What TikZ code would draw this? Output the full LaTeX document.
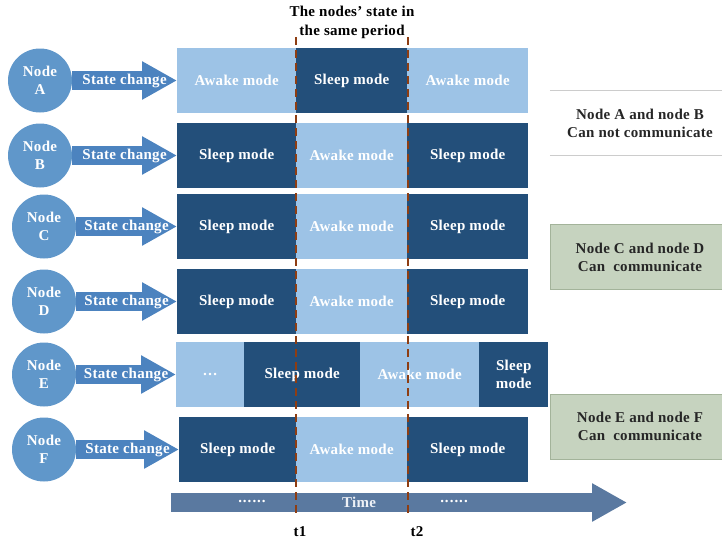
\documentclass[tikz,border=0pt]{standalone}
\usepackage{fontspec}
\setmainfont{Liberation Serif}[LetterSpace=2]
\usepackage{tikz}
\usetikzlibrary{positioning,arrows.meta}
\usepackage{xcolor}
\definecolor{awake}{HTML}{9DC3E6}
\definecolor{sleep}{HTML}{234F7A}
\definecolor{circblue}{HTML}{6097CA}
\definecolor{chgblue}{HTML}{4C83BF}
\definecolor{timeblue}{HTML}{5A79A0}
\definecolor{okgreen}{HTML}{C6D3BF}
\definecolor{okedge}{HTML}{A3B39A}
\definecolor{tline}{HTML}{8E3D12}

\begin{document}
\begin{tikzpicture}[
  x=1pt,y=-1pt,
  every node/.style={font=\bfseries\fontsize{15}{18}\selectfont},
  nd/.style={circle,fill=circblue,text=white,minimum size=64pt,inner sep=0pt,align=center},
  aw/.style={fill=awake,text=white,minimum height=65pt,inner sep=0pt,anchor=west,align=center},
  sl/.style={fill=sleep,text=white,minimum height=65pt,inner sep=0pt,anchor=west,align=center},
  chg/.style={draw=chgblue,line width=19pt,-{Triangle[length=35pt,width=36pt]}},
  lbl/.style={text=white,inner sep=0pt},
  res/.style={minimum width=180pt,minimum height=65pt,align=center,text=black!85},
  tmark/.style={draw=tline,line width=2.5pt,dash pattern=on 8pt off 5pt}
]
  \useasboundingbox (0,0) rectangle (722,541);

  % title
  \node[align=center,font=\bfseries\fontsize{15}{19}\selectfont] (title) at (352,22) {The nodes' state in\\the same period};

  % node A
  \node[nd] (nA) at (40,80.5) {Node\\A};
  \node[aw,minimum width=119pt] (rA1) at (177,80.5) {Awake mode};
  \node[sl,minimum width=111pt] (rA2) at (296,80.5) {Sleep mode};
  \node[aw,minimum width=121pt] (rA3) at (407,80.5) {Awake mode};
  \draw[chg] (nA) -- node[lbl] {State change} (rA1);

  % node B
  \node[nd] (nB) at (40,155.5) {Node\\B};
  \node[sl,minimum width=119pt] (rB1) at (177,155.5) {Sleep mode};
  \node[aw,minimum width=111pt] (rB2) at (296,155.5) {Awake mode};
  \node[sl,minimum width=121pt] (rB3) at (407,155.5) {Sleep mode};
  \draw[chg] (nB) -- node[lbl] {State change} (rB1);

  % node C
  \node[nd] (nC) at (44,226.5) {Node\\C};
  \node[sl,minimum width=119pt] (rC1) at (177,226.5) {Sleep mode};
  \node[aw,minimum width=111pt] (rC2) at (296,226.5) {Awake mode};
  \node[sl,minimum width=121pt] (rC3) at (407,226.5) {Sleep mode};
  \draw[chg] (nC) -- node[lbl] {State change} (rC1);

  % node D
  \node[nd] (nD) at (44,301.5) {Node\\D};
  \node[sl,minimum width=119pt] (rD1) at (177,301.5) {Sleep mode};
  \node[aw,minimum width=111pt] (rD2) at (296,301.5) {Awake mode};
  \node[sl,minimum width=121pt] (rD3) at (407,301.5) {Sleep mode};
  \draw[chg] (nD) -- node[lbl] {State change} (rD1);

  % node E
  \node[nd] (nE) at (44,374.5) {Node\\E};
  \node[aw,minimum width=68pt] (rE1) at (176,374.5) {\dots};
  \node[sl,minimum width=116pt] (rE2) at (244,374.5) {Sleep mode};
  \node[aw,minimum width=119pt] (rE3) at (360,374.5) {Awake mode};
  \node[sl,minimum width=69pt] (rE4) at (479,374.5) {Sleep\\mode};
  \draw[chg] (nE) -- node[lbl] {State change} (rE1);

  % node F
  \node[nd] (nF) at (44,449.5) {Node\\F};
  \node[sl,minimum width=117pt] (rF1) at (179,449.5) {Sleep mode};
  \node[aw,minimum width=111pt] (rF2) at (296,449.5) {Awake mode};
  \node[sl,minimum width=121pt] (rF3) at (407,449.5) {Sleep mode};
  \draw[chg] (nF) -- node[lbl] {State change} (rF1);

  % time axis
  \coordinate (tstart) at (171,502.5);
  \coordinate (tend) at (627,502.5);
  \draw[chg,draw=timeblue] (tstart) -- (tend);
  \node[lbl] (dots1) at (252,501) {.\kern1pt.\kern1pt.\kern1pt.\kern1pt.\kern1pt.};
  \node[lbl,text=white!90!timeblue] (time) at (359,502) {Time};
  \node[lbl] (dots2) at (454,501) {.\kern1pt.\kern1pt.\kern1pt.\kern1pt.\kern1pt.};

  % t1 and t2
  \coordinate (t1top) at (296,37);
  \coordinate (t1bot) at (296,513);
  \coordinate (t2top) at (408,37);
  \coordinate (t2bot) at (408,513);
  \draw[tmark] (t1top) -- (t1bot);
  \draw[tmark] (t2top) -- (t2bot);
  \node (t1) at (300,532) {t1};
  \node (t2) at (417,532) {t2};

  % results
  \node[res,fill=white] (ab) at (640,123) {Node A and node B\\Can not communicate};
  \draw[black!20,line width=1pt] (ab.north west) -- (ab.north east);
  \draw[black!20,line width=1pt] (ab.south west) -- (ab.south east);
  \node[res,fill=okgreen,draw=okedge] (cd) at (640,257) {Node C and node D\\Can\ \ communicate};
  \node[res,fill=okgreen,draw=okedge] (ef) at (640,426.5) {Node E and node F\\Can\ \ communicate};
\end{tikzpicture}
\end{document}
